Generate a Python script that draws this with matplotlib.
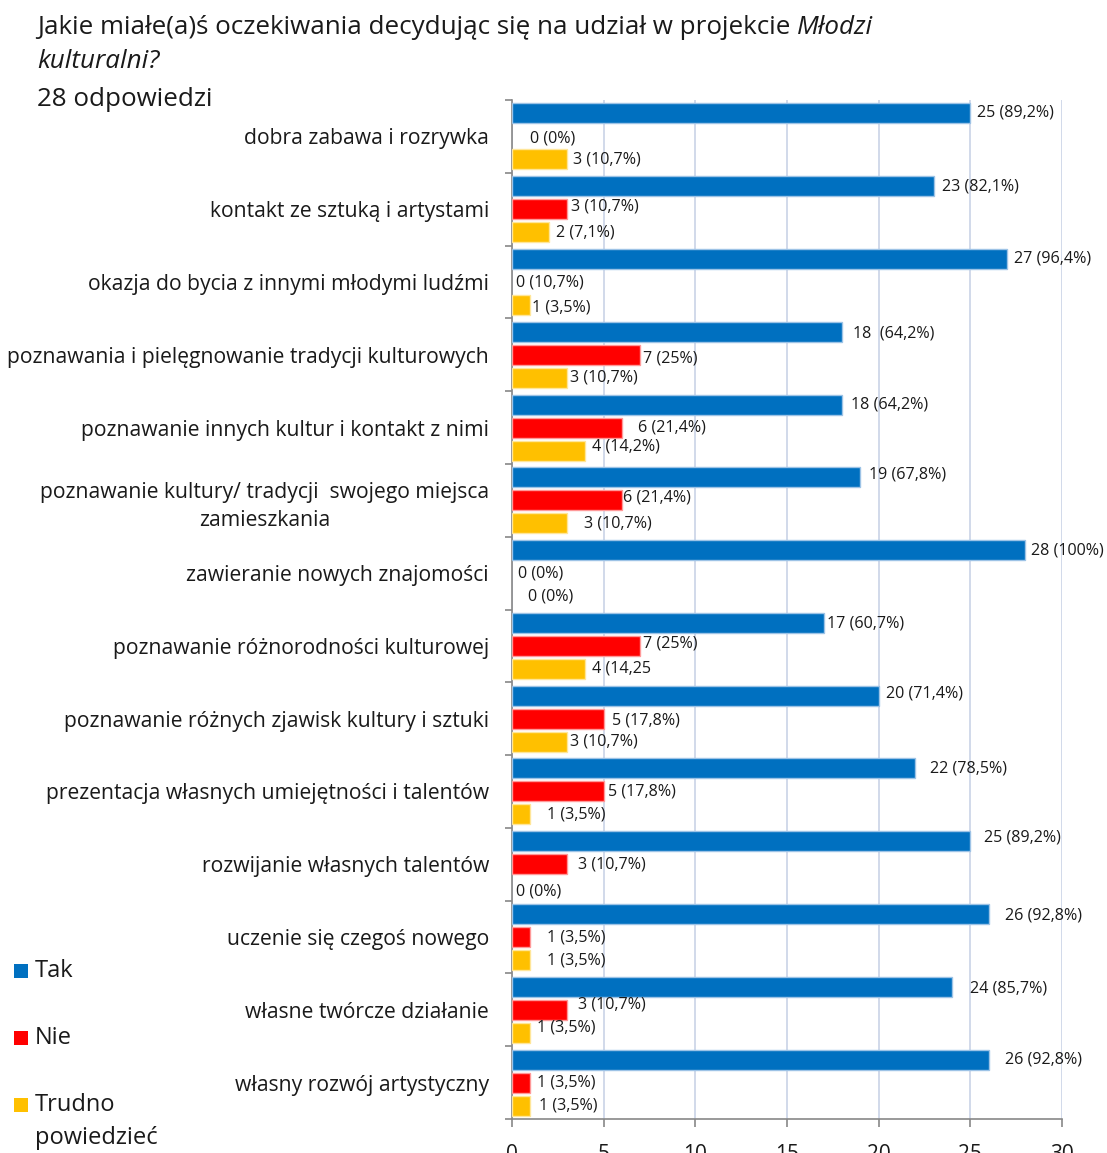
import numpy as np
import matplotlib.pyplot as plt
from matplotlib.patches import Rectangle

plt.rcParams["font.family"] = ["Open Sans", "DejaVu Sans"]

# data
# -----------------------------------------------------------------------------
categories = [
    "dobra zabawa i rozrywka",
    "kontakt ze sztuką i artystami",
    "okazja do bycia z innymi młodymi ludźmi",
    "poznawania i pielęgnowanie tradycji kulturowych",
    "poznawanie innych kultur i kontakt z nimi",
    "poznawanie kultury/ tradycji  swojego miejsca\nzamieszkania",
    "zawieranie nowych znajomości",
    "poznawanie różnorodności kulturowej",
    "poznawanie różnych zjawisk kultury i sztuki",
    "prezentacja własnych umiejętności i talentów",
    "rozwijanie własnych talentów",
    "uczenie się czegoś nowego",
    "własne twórcze działanie",
    "własny rozwój artystyczny",
]
series = ["Tak", "Nie", "Trudno\npowiedzieć"]

tak = [25, 23, 27, 18, 18, 19, 28, 17, 20, 22, 25, 26, 24, 26]
nie = [0, 3, 0, 7, 6, 6, 0, 7, 5, 5, 3, 1, 3, 1]
trudno = [3, 2, 1, 3, 4, 3, 0, 4, 3, 1, 0, 1, 1, 1]

tak_lab = ["25 (89,2%)", "23 (82,1%)", "27 (96,4%)", "18  (64,2%)", "18 (64,2%)",
           "19 (67,8%)", "28 (100%)", "17 (60,7%)", "20 (71,4%)", "22 (78,5%)",
           "25 (89,2%)", "26 (92,8%)", "24 (85,7%)", "26 (92,8%)"]
nie_lab = ["0 (0%)", "3 (10,7%)", "0 (10,7%)", "7 (25%)", "6 (21,4%)",
           "6 (21,4%)", "0 (0%)", "7 (25%)", "5 (17,8%)", "5 (17,8%)",
           "3 (10,7%)", "1 (3,5%)", "3 (10,7%)", "1 (3,5%)"]
trudno_lab = ["3 (10,7%)", "2 (7,1%)", "1 (3,5%)", "3 (10,7%)", "4 (14,2%)",
              "3 (10,7%)", "0 (0%)", "4 (14,25", "3 (10,7%)", "1 (3,5%)",
              "0 (0%)", "1 (3,5%)", "1 (3,5%)", "1 (3,5%)"]

# label offsets from bar end (pixels, dy positive = down)
dx = [[7, 18, 6], [8, 4, 7], [7, 4, 2], [11, 3, 3], [9, 16, 7], [9, 1, 17],
      [6, 6, 16], [3, 3, 7], [7, 8, 3], [15, 4, 17], [14, 11, 4], [16, 17, 17],
      [18, 11, 7], [16, 7, 9]]
dy = [[-1, 2, 0], [0, -3, 0], [0, 1, 3], [2, 4, 0], [0, 0, -4], [-3, -3, 0],
      [0, 0, 0], [1, -2, 0], [-2, 2, 0], [0, 0, 0], [-4, 0, 4], [1, 0, 0],
      [2, -5, -5], [0, 0, 0]]
# -----------------------------------------------------------------------------

colors = ["#0070C0", "#FF0000", "#FFC000"]
edges = ["#9DC3E6", "#FF9999", "#FFE699"]
values = [tak, nie, trudno]
labels = [tak_lab, nie_lab, trudno_lab]
txt = "#1a1a1a"

fig = plt.figure(figsize=(11.07, 11.53), dpi=100)
W, H = 1107, 1153
ax = fig.add_axes([512 / W, 1 - 1119 / H, 550 / W, 1019 / H])

n = len(categories)
y = np.arange(n)
step = 0.316
h = 0.275
for j in range(3):
    yy = y + (j - 1) * step
    lw = [1 if v > 0 else 0 for v in values[j]]
    ax.barh(yy, values[j], height=h, color=colors[j], edgecolor=edges[j],
            linewidth=lw, zorder=3)
    for i in range(n):
        ax.annotate(labels[j][i], (values[j][i], yy[i]),
                    xytext=(dx[i][j] * 0.72, -dy[i][j] * 0.72),
                    textcoords="offset points", va="center", ha="left",
                    fontsize=11.6, color=txt, zorder=4)

ax.set_xlim(0, 30)
ax.set_ylim(n - 0.5, -0.5)
ax.set_xticks(np.arange(0, 31, 5))
ax.tick_params(axis="x", length=6, width=1.2, color="#888888",
               labelsize=15, pad=12, labelcolor=txt)
ax.set_yticks(y)
ax.set_yticklabels(categories, fontsize=15.2, color=txt, multialignment="center")
for lbl in ax.get_yticklabels():
    lbl.set_linespacing(1.45)
ax.tick_params(axis="y", length=0, pad=16.5)
ax.set_yticks(np.arange(n + 1) - 0.5, minor=True)
ax.tick_params(axis="y", which="minor", length=5, width=1.2, color="#888888")
ax.grid(axis="x", color="#C9D3E6", linewidth=1.2, zorder=0)
for s in ["top", "right"]:
    ax.spines[s].set_visible(False)
for s in ["left", "bottom"]:
    ax.spines[s].set_color("#888888")
    ax.spines[s].set_linewidth(1.2)

# title
fs = 18.7
t1 = fig.text(37 / W, 1 - 28 / H, "Jakie miałe(a)ś oczekiwania decydując się na udział w projekcie ",
              fontsize=fs, va="center", ha="left", color=txt)
fig.canvas.draw()
bb = t1.get_window_extent()
fig.text(bb.x1 / W, 1 - 28 / H, "Młodzi", fontsize=fs, style="italic",
         va="center", ha="left", color=txt)
fig.text(37 / W, 1 - 62 / H, "kulturalni?", fontsize=fs, style="italic",
         va="center", ha="left", color=txt)
fig.text(37 / W, 1 - 99 / H, "28 odpowiedzi", fontsize=fs,
         va="center", ha="left", color=txt)

# legend
leg_y = [971, 1038, 1105]
for c, name, ly in zip(colors, series, leg_y):
    fig.add_artist(Rectangle((14 / W, 1 - (ly + 7) / H), 14 / W, 14 / H,
                             transform=fig.transFigure, facecolor=c, edgecolor="none"))
    first, *rest = name.split("\n")
    fig.text(35 / W, 1 - ly / H, first, fontsize=17, va="center", ha="left", color=txt)
    for k, line in enumerate(rest):
        fig.text(35 / W, 1 - (ly + 33 * (k + 1)) / H, line, fontsize=17,
                 va="center", ha="left", color=txt)

fig.savefig("out.png", dpi=100)
